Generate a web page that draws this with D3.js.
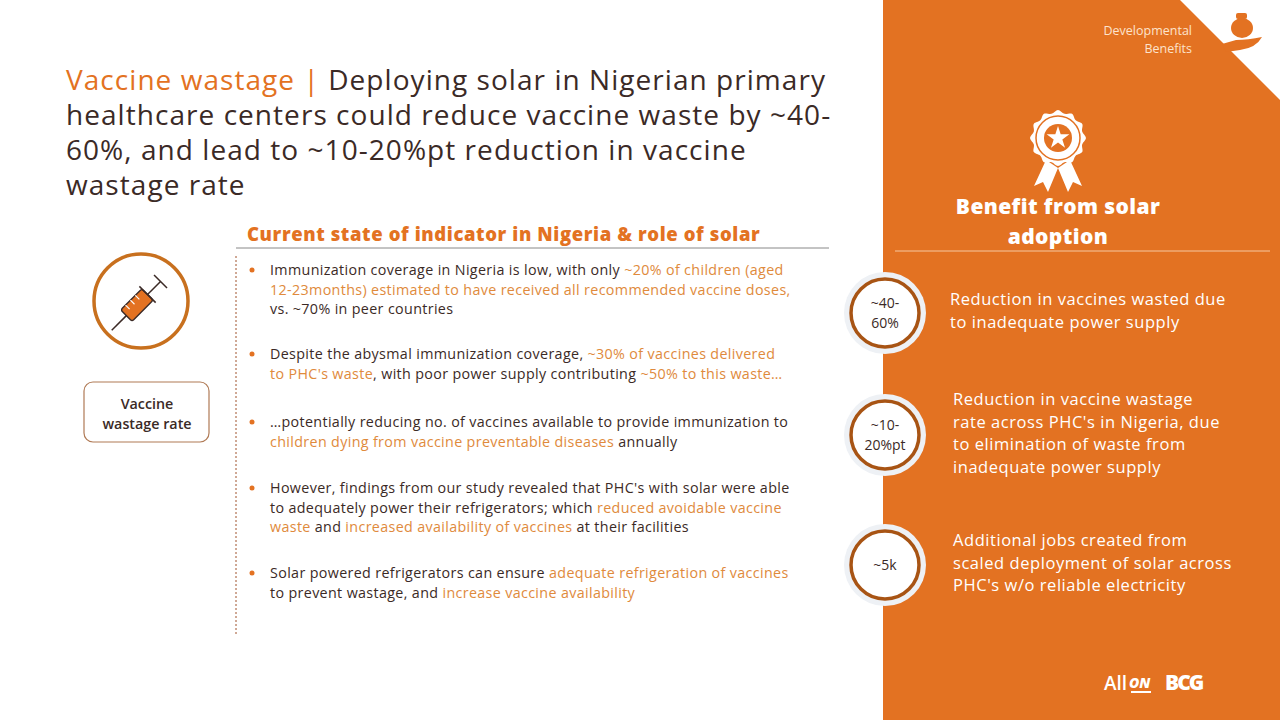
<!DOCTYPE html>
<html><head><meta charset="utf-8">
<script src="https://cdn.jsdelivr.net/npm/d3@7"></script>
<style>body{margin:0;background:#fff;}text{font-family:"Open Sans",sans-serif;}</style>
</head><body><div id="c"></div>
<script>
const ORANGE = "#E37222";
const DARK = "#3b2a26";
const HI = "#E08A3C";

const titleLines = [
  [["Vaccine wastage | ", ORANGE], ["Deploying solar in Nigerian primary", DARK]],
  [["healthcare centers could reduce vaccine waste by ~40-", DARK]],
  [["60%, and lead to ~10-20%pt reduction in vaccine", DARK]],
  [["wastage rate", DARK]]
];

// each bullet: lines of [text, highlighted]
const bullets = [
  [[["Immunization coverage in Nigeria is low, with only ",0],["~20% of children (aged",1]],
   [["12-23months) estimated to have received all recommended vaccine doses,",1]],
   [["vs. ~70% in peer countries",0]]],
  [[["Despite the abysmal immunization coverage, ",0],["~30% of vaccines delivered",1]],
   [["to PHC's waste",1],[", with poor power supply contributing ",0],["~50% to this waste…",1]]],
  [[["…potentially reducing no. of vaccines available to provide immunization to",0]],
   [["children dying from vaccine preventable diseases",1],[" annually",0]]],
  [[["However, findings from our study revealed that PHC's with solar were able",0]],
   [["to adequately power their refrigerators; which ",0],["reduced avoidable vaccine",1]],
   [["waste",1],[" and ",0],["increased availability of vaccines",1],[" at their facilities",0]]],
  [[["Solar powered refrigerators can ensure ",0],["adequate refrigeration of vaccines",1]],
   [["to prevent wastage, and ",0],["increase vaccine availability",1]]]
];
const bulletY = [270, 354, 422, 488, 573];

const benefitValues = [["~40-","60%"], ["~10-","20%pt"], ["~5k"]];
const benefitTexts = [
  ["Reduction in vaccines wasted due","to inadequate power supply"],
  ["Reduction in vaccine wastage","rate across PHC's in Nigeria, due","to elimination of waste from","inadequate power supply"],
  ["Additional jobs created from","scaled deployment of solar across","PHC's w/o reliable electricity"]
];
const benefitCY = [313, 435, 565];

const W = 1280, H = 720;
const svg = d3.select("#c").append("svg").attr("width", W).attr("height", H);

// orange panel with white corner cut
svg.append("path").attr("d", d3.line()([[883,0],[1180,0],[1280,100],[1280,720],[883,720]]))
  .attr("fill", ORANGE);

// title, one text per line
titleLines.forEach((ln, i) => {
  const t = svg.append("text").attr("x", 66).attr("y", 90 + i*35)
    .attr("font-size", 28).attr("letter-spacing", 1.05).attr("font-family","Lato,sans-serif");
  ln.forEach(seg => t.append("tspan").attr("fill", seg[1]).text(seg[0]));
});

// section header
svg.append("text").attr("x", 247).attr("y", 241).attr("font-size", 18.5).attr("font-weight", 800).attr("letter-spacing", 0.6)
  .attr("fill", ORANGE).attr("font-family","Lato,sans-serif").text("Current state of indicator in Nigeria & role of solar");
svg.append("line").attr("x1", 236).attr("x2", 829).attr("y1", 248).attr("y2", 248).attr("stroke", "#888").attr("stroke-width", 1);
svg.append("line").attr("x1", 236).attr("x2", 236).attr("y1", 256).attr("y2", 636)
  .attr("stroke", "#a0522d").attr("stroke-dasharray", "2,2").attr("stroke-width", 1);

// bullets
bullets.forEach((b, i) => {
  svg.append("circle").attr("cx", 252).attr("cy", bulletY[i]).attr("r", 2.5).attr("fill", ORANGE);
  const t = svg.append("text").attr("font-size", 14.3).attr("letter-spacing", 0.35);
  b.forEach((ln, k) => {
    ln.forEach((seg, j) => {
      const s = t.append("tspan").attr("fill", seg[1] ? HI : DARK).text(seg[0]);
      if (j === 0) s.attr("x", 270).attr("y", bulletY[i] + 5 + k*19.5);
    });
  });
});

// syringe icon
svg.append("circle").attr("cx", 141).attr("cy", 301).attr("r", 47).attr("fill", "none")
  .attr("stroke", "#c8701e").attr("stroke-width", 3.5);
const syr = svg.append("g").attr("transform", "translate(141,301) rotate(-45) scale(1.15)");
syr.append("rect").attr("x", -18).attr("y", -7).attr("width", 26).attr("height", 14).attr("rx", 2)
  .attr("fill", ORANGE).attr("stroke", DARK).attr("stroke-width", 1.2);
syr.append("line").attr("x1", -36).attr("x2", -18).attr("y1", 0).attr("y2", 0).attr("stroke", DARK).attr("stroke-width", 1.3);
syr.append("line").attr("x1", 8).attr("x2", 24).attr("y1", 0).attr("y2", 0).attr("stroke", DARK).attr("stroke-width", 1.3);
syr.append("line").attr("x1", 8).attr("x2", 8).attr("y1", -10).attr("y2", 10).attr("stroke", DARK).attr("stroke-width", 1.3);
syr.append("line").attr("x1", 24).attr("x2", 24).attr("y1", -8).attr("y2", 8).attr("stroke", DARK).attr("stroke-width", 1.3);
[-12,-6,0].forEach(x => syr.append("line").attr("x1", x).attr("x2", x).attr("y1", -7).attr("y2", -2).attr("stroke", "#fff").attr("stroke-width", 1));

// indicator label box
svg.append("rect").attr("x", 84).attr("y", 382).attr("width", 125).attr("height", 60).attr("rx", 9)
  .attr("fill", "#fff").attr("stroke", "#b07a55").attr("stroke-width", 1.2);
svg.append("text").attr("text-anchor", "middle").attr("font-size", 14.3).attr("font-weight", 600).attr("fill", DARK)
  .selectAll("tspan").data(["Vaccine", "wastage rate"]).join("tspan")
  .attr("x", 147).attr("y", (d, i) => 409 + i*19.5).text(d => d);

// top-right tag
svg.append("text").attr("text-anchor", "end").attr("font-size", 12.5).attr("fill", "#fde3cc")
  .selectAll("tspan").data(["Developmental", "Benefits"]).join("tspan")
  .attr("x", 1192).attr("y", (d, i) => 35 + i*18).text(d => d);
const hand = svg.append("g").attr("fill", ORANGE);
hand.append("ellipse").attr("cx", 1242).attr("cy", 28).attr("rx", 11).attr("ry", 10);
hand.append("rect").attr("x", 1236).attr("y", 13).attr("width", 11).attr("height", 6).attr("rx", 2);
hand.append("path").attr("d", "M1222,44 L1236,40 Q1248,40 1262,37 Q1256,48 1240,50 L1226,52 Z");

// ribbon badge
const rb = svg.append("g").attr("transform", "translate(1058,138)");
rb.append("path").attr("d", "M-12,22 L-24,48 L-15,44 L-10,54 L0,30 Z M12,22 L24,48 L15,44 L10,54 L0,30 Z").attr("fill", "#fff");
const star = d3.range(24).map(i => { const a = i*Math.PI/12, r = i%2 ? 25 : 28; return [r*Math.sin(a), -r*Math.cos(a)]; });
rb.append("path").attr("d", d3.line().curve(d3.curveCardinalClosed)(star)).attr("fill", "#fff");
rb.append("circle").attr("r", 22).attr("fill", "none").attr("stroke", ORANGE).attr("stroke-width", 1.5);
rb.append("circle").attr("r", 14).attr("fill", ORANGE);
rb.append("path").attr("d", d3.symbol(d3.symbolStar, 160)()).attr("fill", "#fff");

svg.append("text").attr("text-anchor", "middle").attr("font-size", 21).attr("font-weight", 800).attr("fill", "#fff")
  .attr("font-family","Lato,sans-serif").attr("letter-spacing", 0.4)
  .selectAll("tspan").data(["Benefit from solar", "adoption"]).join("tspan")
  .attr("x", 1058).attr("y", (d, i) => 214 + i*30).text(d => d);
svg.append("line").attr("x1", 895).attr("x2", 1270).attr("y1", 251).attr("y2", 251).attr("stroke", "#f6c79f").attr("stroke-width", 1);

// benefit circles and text
benefitValues.forEach((v, i) => {
  const cx = 885, cy = benefitCY[i];
  svg.append("circle").attr("cx", cx).attr("cy", cy).attr("r", 41).attr("fill", "#eef1f5");
  svg.append("circle").attr("cx", cx).attr("cy", cy).attr("r", 34).attr("fill", "#fff")
    .attr("stroke", "#a85414").attr("stroke-width", 3.5);
  svg.append("text").attr("text-anchor", "middle").attr("font-size", 14).attr("fill", DARK)
    .selectAll("tspan").data(v).join("tspan")
    .attr("x", cx).attr("y", (d, k) => cy + 5 - (v.length - 1)*10 + k*20).text(d => d);
  const tx = svg.append("text").attr("font-size", 16.5).attr("fill", "#fff").attr("letter-spacing", 0.55);
  const ls = benefitTexts[i];
  tx.selectAll("tspan").data(ls).join("tspan")
    .attr("x", i === 0 ? 950 : 953).attr("y", (d, k) => cy - 8 - (ls.length - 2)*11 + k*22.5).text(d => d);
});

// logos
svg.append("text").attr("x", 1104).attr("y", 690).attr("font-size", 19).attr("font-weight", 600).attr("fill", "#fff").text("All");
svg.append("text").attr("x", 1129).attr("y", 688).attr("font-size", 14).attr("font-weight", 800).attr("font-style", "italic").attr("fill", "#fff").text("ON");
svg.append("line").attr("x1", 1131).attr("x2", 1151).attr("y1", 692).attr("y2", 692).attr("stroke", "#fff").attr("stroke-width", 2);
svg.append("text").attr("x", 1165).attr("y", 690).attr("font-size", 21).attr("font-weight", 900).attr("fill", "#fff").attr("letter-spacing", -2).text("BCG");
</script></body></html>
